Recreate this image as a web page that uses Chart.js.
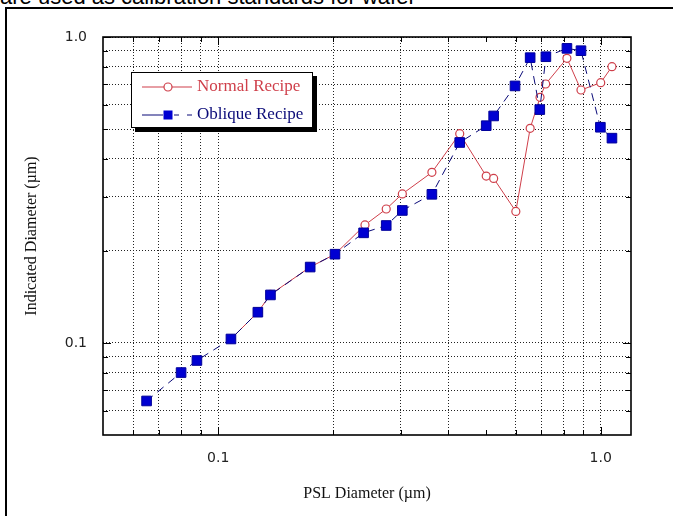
<!DOCTYPE html>
<html>
<head>
<meta charset="utf-8">
<script src="https://cdn.jsdelivr.net/npm/chart.js@4.4.1/dist/chart.umd.min.js"></script>
<style>
html, body { margin: 0; padding: 0; background: #fff; overflow: hidden; }
body { width: 673px; height: 516px; position: relative; }
#head { position: absolute; left: 0; top: -14px; font: 22px/22px "Liberation Sans", Arial, sans-serif; color: #000; white-space: nowrap; }
#frame { position: absolute; left: 5px; top: 7px; width: 720px; height: 600px; border: 2px solid #000; }
#myChart { position: absolute; left: 0; top: 0; }
</style>
</head>
<body>
<div id="head">are used as calibration standards for wafer</div>
<div id="frame"></div>
<canvas id="myChart" width="673" height="516"></canvas>
<script>
// values (PSL diameter vs indicated diameter, um)
const normalX = [0.108, 0.127, 0.137, 0.174, 0.202, 0.242, 0.275, 0.303, 0.362, 0.428, 0.502, 0.525, 0.600, 0.654, 0.694, 0.718, 0.816, 0.888, 1.0, 1.07];
const normalY = [0.103, 0.126, 0.144, 0.177, 0.195, 0.243, 0.274, 0.307, 0.361, 0.483, 0.351, 0.345, 0.269, 0.503, 0.635, 0.702, 0.852, 0.671, 0.709, 0.80];

const obliqueX = [0.065, 0.080, 0.088, 0.108, 0.127, 0.137, 0.174, 0.202, 0.240, 0.275, 0.303, 0.362, 0.428, 0.502, 0.525, 0.597, 0.654, 0.693, 0.719, 0.816, 0.888, 0.998, 1.07];
const obliqueY = [0.0646, 0.080, 0.0876, 0.103, 0.126, 0.1435, 0.177, 0.195, 0.229, 0.242, 0.271, 0.306, 0.452, 0.513, 0.552, 0.692, 0.856, 0.579, 0.862, 0.918, 0.902, 0.507, 0.467];

const xTicks = [0.06, 0.07, 0.08, 0.09, 0.1, 0.2, 0.3, 0.4, 0.5, 0.6, 0.7, 0.8, 0.9, 1.0];
const yTicks = [0.06, 0.07, 0.08, 0.09, 0.1, 0.2, 0.3, 0.4, 0.5, 0.6, 0.7, 0.8, 0.9, 1.0];
const labelledTicks = [0.1, 1.0];
const labelText = ['0.1', '1.0'];
const xNoGrid = [0.5];

const RED = '#cf3f4a';
const NAVY = '#0a0a78';
const BLUE = '#0000d2';

const tickLabel = v => {
  const i = labelledTicks.indexOf(v);
  return i < 0 ? '' : labelText[i];
};

const toPoints = (xs, ys) => xs.map((x, i) => ({x: x, y: ys[i]}));

// inward tick marks and the plot frame
const frameTicks = {
  id: 'frameTicks',
  afterDatasetsDraw(chart) {
    const {ctx, chartArea: a, scales: {x, y}} = chart;
    ctx.save();
    ctx.strokeStyle = '#000';
    ctx.lineWidth = 1;
    ctx.beginPath();
    xTicks.forEach(v => {
      const px = Math.round(x.getPixelForValue(v)) + 0.5;
      const len = labelledTicks.includes(v) ? 8 : 5;
      ctx.moveTo(px, a.bottom); ctx.lineTo(px, a.bottom - len);
      ctx.moveTo(px, a.top); ctx.lineTo(px, a.top + len);
    });
    yTicks.forEach(v => {
      const py = Math.round(y.getPixelForValue(v)) + 0.5;
      const len = labelledTicks.includes(v) ? 8 : 5;
      ctx.moveTo(a.left, py); ctx.lineTo(a.left + len, py);
      ctx.moveTo(a.right, py); ctx.lineTo(a.right - len, py);
    });
    ctx.stroke();
    ctx.lineWidth = 1.6;
    ctx.strokeRect(a.left, a.top, a.right - a.left, a.bottom - a.top);
    ctx.restore();
  }
};

// boxed legend with drop shadow, inside the plot
const legendBox = {
  id: 'legendBox',
  afterDraw(chart) {
    const {ctx, chartArea: a} = chart;
    const bx = a.left + 28, by = a.top + 35, bw = 182, bh = 56;
    ctx.save();
    ctx.fillStyle = '#000';
    ctx.fillRect(bx + 4, by + 4, bw, bh);
    ctx.fillStyle = '#fff';
    ctx.fillRect(bx, by, bw, bh);
    ctx.strokeStyle = '#000';
    ctx.lineWidth = 1;
    ctx.strokeRect(bx + 0.5, by + 0.5, bw - 1, bh - 1);

    const r1 = by + 15, r2 = by + 43, mx = bx + 37;
    ctx.lineWidth = 1.2;
    ctx.strokeStyle = RED;
    ctx.beginPath(); ctx.moveTo(bx + 11, r1); ctx.lineTo(bx + 61, r1); ctx.stroke();
    ctx.fillStyle = '#fff';
    ctx.beginPath(); ctx.arc(mx, r1, 4, 0, Math.PI * 2); ctx.fill(); ctx.stroke();

    ctx.strokeStyle = NAVY;
    ctx.beginPath(); ctx.moveTo(bx + 11, r2); ctx.lineTo(bx + 32, r2);
    ctx.moveTo(bx + 43, r2); ctx.lineTo(bx + 48, r2);
    ctx.moveTo(bx + 56, r2); ctx.lineTo(bx + 61, r2); ctx.stroke();
    ctx.fillStyle = BLUE;
    ctx.fillRect(mx - 4.5, r2 - 4.5, 9, 9);

    ctx.font = '17px "Liberation Serif", "Times New Roman", serif';
    ctx.textBaseline = 'middle';
    ctx.fillStyle = RED;
    ctx.fillText('Normal Recipe', bx + 66, r1);
    ctx.fillStyle = NAVY;
    ctx.fillText('Oblique Recipe', bx + 66, r2);
    ctx.restore();
  }
};

const ctx = document.getElementById('myChart');

new Chart(ctx, {
  type: 'scatter',
  data: {
    datasets: [{
      label: 'Oblique Recipe',
      data: toPoints(obliqueX, obliqueY),
      showLine: true,
      borderColor: NAVY,
      borderWidth: 1,
      borderDash: [8, 6],
      pointStyle: 'rect',
      pointRadius: 6.8,
      pointBackgroundColor: BLUE,
      pointBorderColor: '#00009a',
      pointBorderWidth: 1
    }, {
      label: 'Normal Recipe',
      data: toPoints(normalX, normalY),
      showLine: true,
      borderColor: RED,
      borderWidth: 1,
      pointStyle: 'circle',
      pointRadius: 4,
      pointBackgroundColor: '#fff',
      pointBorderColor: RED,
      pointBorderWidth: 1.2
    }]
  },
  options: {
    responsive: false,
    animation: false,
    devicePixelRatio: 1,
    layout: { padding: { left: 0, top: 37, right: 42, bottom: 0 } },
    plugins: {
      legend: { display: false },
      tooltip: { enabled: false }
    },
    scales: {
      x: {
        type: 'logarithmic',
        min: 0.05,
        max: 1.2,
        afterBuildTicks: s => { s.ticks = xTicks.map(v => ({value: v})); },
        afterFit: s => { s.height = 81; },
        ticks: {
          autoSkip: false,
          maxRotation: 0,
          padding: 15,
          color: '#222',
          font: { family: '"DejaVu Sans", sans-serif', size: 14 },
          callback: v => tickLabel(v)
        },
        grid: {
          drawTicks: false,
          lineWidth: 1,
          color: c => (c.tick && xNoGrid.includes(c.tick.value)) ? 'rgba(0,0,0,0)' : '#222'
        },
        border: { display: false, dash: [1, 2] },
        title: {
          display: true,
          text: 'PSL Diameter (µm)',
          color: '#111',
          font: { family: '"Liberation Serif", "Times New Roman", serif', size: 16, lineHeight: 1 },
          padding: { top: 0, bottom: 14 }
        }
      },
      y: {
        type: 'logarithmic',
        min: 0.05,
        max: 1.0,
        afterBuildTicks: s => { s.ticks = yTicks.map(v => ({value: v})); },
        afterFit: s => { s.width = 103; },
        ticks: {
          autoSkip: false,
          padding: 16,
          color: '#222',
          font: { family: '"DejaVu Sans", sans-serif', size: 14 },
          callback: v => tickLabel(v)
        },
        grid: { drawTicks: false, lineWidth: 1, color: '#222' },
        border: { display: false, dash: [1, 2] },
        title: {
          display: true,
          text: 'Indicated Diameter (µm)',
          color: '#111',
          font: { family: '"Liberation Serif", "Times New Roman", serif', size: 16, lineHeight: 1 },
          padding: { top: 24, bottom: 0 }
        }
      }
    }
  },
  plugins: [frameTicks, legendBox]
});
</script>
</body>
</html>
